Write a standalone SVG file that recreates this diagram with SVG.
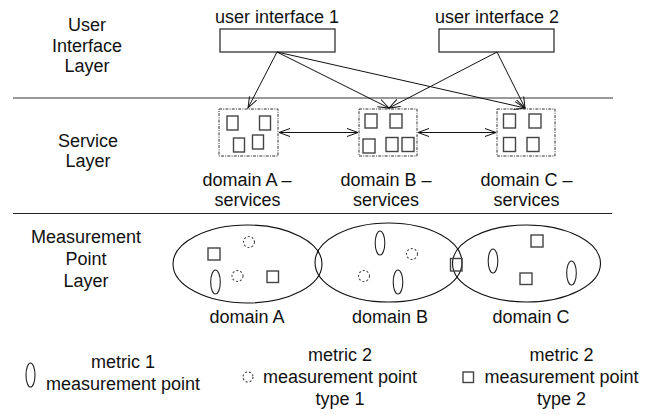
<svg xmlns="http://www.w3.org/2000/svg" width="656" height="415" viewBox="0 0 656 415">
<defs>
<style>
text{font-family:"Liberation Sans",Arial,sans-serif;font-size:18px;fill:#111;text-anchor:middle}
.box{fill:#fff;stroke:#222;stroke-width:1.2}
.svc{fill:none;stroke:#333;stroke-width:1;stroke-dasharray:3,1.2,1,1.2}
.sq{fill:none;stroke:#444;stroke-width:1.4}
.ell{fill:none;stroke:#111;stroke-width:1.1}
.mp1{fill:none;stroke:#222;stroke-width:1.1}
.mp2{fill:none;stroke:#444;stroke-width:1.1;stroke-dasharray:2,2}
.conn{fill:none;stroke:#111;stroke-width:1;marker-end:url(#ah)}
.dbl{fill:none;stroke:#111;stroke-width:1;marker-end:url(#ah);marker-start:url(#ah)}
</style>
<marker id="ah" viewBox="0 0 12 10" refX="11" refY="5" markerWidth="12" markerHeight="10" markerUnits="userSpaceOnUse" orient="auto-start-reverse">
<path d="M0,1 L11,5 L0,9" fill="none" stroke="#111" stroke-width="1"/>
</marker>
</defs>
<rect width="656" height="415" fill="#fff"/>

<g id="layer-labels">
<text x="87" y="31">User</text>
<text x="87" y="52">Interface</text>
<text x="87" y="72">Layer</text>
<text x="88" y="147">Service</text>
<text x="88" y="167">Layer</text>
<text x="86" y="243">Measurement</text>
<text x="86" y="265">Point</text>
<text x="86" y="287">Layer</text>
</g>

<g id="separators">
<line x1="13" y1="98" x2="613" y2="98" stroke="#777" stroke-width="1.6"/>
<line x1="13" y1="213.5" x2="612" y2="213.5" stroke="#222" stroke-width="1.2"/>
</g>

<g id="ui1">
<rect class="box" x="220" y="29" width="115" height="23"/>
<text x="277" y="23">user interface 1</text>
</g>
<g id="ui2">
<rect class="box" x="439" y="29" width="115" height="23"/>
<text x="497" y="23">user interface 2</text>
</g>

<g id="svcA">
<rect class="svc" x="219" y="109" width="59" height="47"/>
<rect class="sq" x="227" y="116" width="11" height="14"/>
<rect class="sq" x="259.5" y="116" width="11" height="14"/>
<rect class="sq" x="233.5" y="138" width="11" height="14"/>
<rect class="sq" x="252.5" y="135" width="11" height="14"/>
<text x="247" y="186">domain A –</text>
<text x="247.5" y="206">services</text>
</g>
<g id="svcB">
<rect class="svc" x="359" y="109" width="58" height="47"/>
<rect class="sq" x="365" y="114" width="12" height="14"/>
<rect class="sq" x="390" y="114" width="12" height="14"/>
<rect class="sq" x="363" y="139" width="12" height="14"/>
<rect class="sq" x="386" y="137.5" width="12" height="14"/>
<rect class="sq" x="402" y="137.5" width="12" height="14"/>
<text x="386" y="186">domain B –</text>
<text x="386" y="206">services</text>
</g>
<g id="svcC">
<rect class="svc" x="497" y="109" width="58" height="47"/>
<rect class="sq" x="503.5" y="114" width="12" height="14"/>
<rect class="sq" x="529" y="114" width="12" height="14"/>
<rect class="sq" x="503.5" y="137.5" width="12" height="14"/>
<rect class="sq" x="527" y="137.5" width="12" height="14"/>
<text x="526.5" y="186">domain C –</text>
<text x="526.5" y="206">services</text>
</g>

<g id="connectors">
<line class="conn" x1="277" y1="52" x2="248" y2="108"/>
<line class="conn" x1="277" y1="52" x2="389" y2="108"/>
<line class="conn" x1="277" y1="52" x2="525" y2="108"/>
<line class="conn" x1="497" y1="52" x2="389" y2="108"/>
<line class="conn" x1="497" y1="52" x2="525" y2="108"/>
<line class="dbl" x1="279" y1="132.5" x2="358" y2="132.5"/>
<line class="dbl" x1="418" y1="132.5" x2="496" y2="132.5"/>
</g>

<g id="domainA">
<ellipse class="ell" cx="247.5" cy="264" rx="74.5" ry="39"/>
<rect class="sq" x="208" y="248" width="12" height="12"/>
<circle class="mp2" cx="249" cy="242" r="5.5"/>
<circle class="mp2" cx="237.5" cy="276" r="5.5"/>
<rect class="sq" x="267" y="271" width="11.5" height="11.5"/>
<ellipse class="mp1" cx="215.5" cy="282" rx="4.8" ry="12"/>
<text x="247" y="323">domain A</text>
</g>
<g id="domainB">
<ellipse class="ell" cx="388.5" cy="262.5" rx="73.5" ry="39.5"/>
<ellipse class="mp1" cx="380" cy="243" rx="4.8" ry="12"/>
<circle class="mp2" cx="412" cy="254" r="5.5"/>
<circle class="mp2" cx="364" cy="276" r="5.5"/>
<ellipse class="mp1" cx="398" cy="282" rx="4.8" ry="12"/>
<text x="390" y="323">domain B</text>
</g>
<g id="domainC">
<ellipse class="ell" cx="526.5" cy="263.5" rx="74" ry="38.5"/>
<rect class="sq" x="531" y="235" width="12" height="12"/>
<ellipse class="mp1" cx="493" cy="261" rx="4.8" ry="12"/>
<rect class="sq" x="520" y="273" width="12" height="11.5"/>
<ellipse class="mp1" cx="571.5" cy="273" rx="4.8" ry="12"/>
<text x="531" y="323">domain C</text>
</g>
<g id="sharedPoint">
<rect class="sq" x="450.5" y="258.5" width="11.5" height="12.5"/>
</g>

<g id="legend">
<ellipse class="mp1" cx="30.5" cy="375" rx="4.5" ry="12"/>
<text x="123" y="368">metric 1</text>
<text x="123" y="390">measurement point</text>
<circle class="mp2" cx="248" cy="377" r="5"/>
<text x="340" y="361">metric 2</text>
<text x="340" y="383">measurement point</text>
<text x="340" y="405">type 1</text>
<rect class="sq" x="463" y="372" width="10.5" height="10.5" stroke-width="1.1"/>
<text x="561.5" y="361">metric 2</text>
<text x="561.5" y="383">measurement point</text>
<text x="561.5" y="405">type 2</text>
</g>
</svg>
